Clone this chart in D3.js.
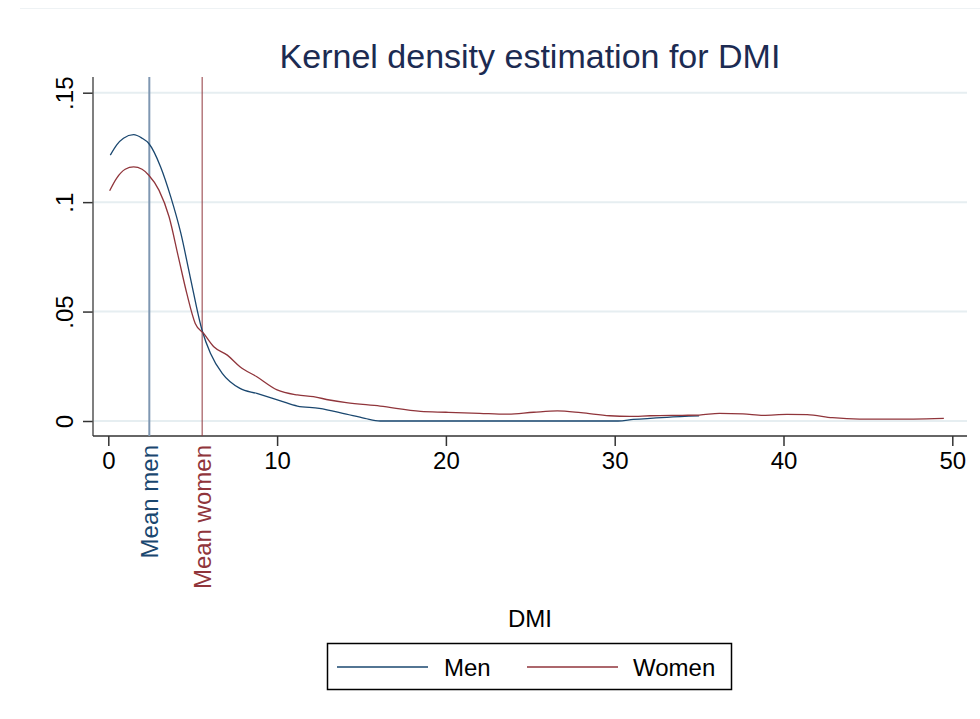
<!DOCTYPE html>
<html lang="en">
    <head>
        <meta charset="utf-8">
        <title>Kernel density estimation for DMI</title>
        <script type="text/javascript" src="https://cdn.jsdelivr.net/npm/d3@7"></script>
        <style>
            body { margin: 0; background: #fff; }
            text { font-family: "Liberation Sans", Arial, sans-serif; }
        </style>
    </head>
    <body>
        <div class="chart"></div>
        <script type="text/javascript">
            // data: [DMI, density]
            var menDensity = [
                [0.12, 0.1215], [0.5, 0.1262], [0.9, 0.1292], [1.5, 0.1308], [2.0, 0.1292],
                [2.4, 0.1268], [3.1, 0.1161], [3.7, 0.1024], [4.3, 0.0857], [4.85, 0.0659],
                [5.55, 0.0416], [6.05, 0.031], [6.75, 0.0218], [7.8, 0.0149], [8.8, 0.0126],
                [10.2, 0.0092], [11.2, 0.0068], [12.5, 0.0058], [14.1, 0.0031], [15.2, 0.0012],
                [16.1, 0.0], [20, 0.0], [25, 0.0], [30.2, 0.0], [31.1, 0.0007],
                [33.1, 0.0017], [35.0, 0.0023]
            ];
            var womenDensity = [
                [0.08, 0.1052], [0.5, 0.111], [1.0, 0.115], [1.5, 0.1161], [2.0, 0.115],
                [2.4, 0.1123], [3.0, 0.1055], [3.6, 0.0933], [4.15, 0.075], [4.65, 0.0583],
                [5.15, 0.0446], [5.65, 0.04], [6.25, 0.0339], [7.05, 0.0301], [7.8, 0.0248],
                [8.8, 0.0202], [10.0, 0.0142], [11.2, 0.0119], [12.15, 0.0111], [13.1, 0.0096],
                [14.1, 0.0084], [16.1, 0.0068], [18.5, 0.0044], [20.0, 0.004], [22.0, 0.0035],
                [23.6, 0.0031], [25.2, 0.004], [26.6, 0.0046], [28.0, 0.0038], [29.7, 0.0024],
                [30.9, 0.0021], [32.1, 0.0024], [34.0, 0.0026], [35.0, 0.0027], [36.2, 0.0035],
                [37.6, 0.0033], [38.8, 0.0026], [40.2, 0.003], [41.4, 0.0029], [42.9, 0.0015],
                [44.5, 0.0009], [47.7, 0.0009], [49.5, 0.0012]
            ];
            var meanMen = 2.43;
            var meanWomen = 5.56;
            var xTicks = [0, 10, 20, 30, 40, 50];
            var yTicks = [0, 0.05, 0.1, 0.15];
            var yTickLabels = ["0", ".05", ".1", ".15"];
            var seriesNames = ["Men", "Women"];

            var navy = "#1a476f";
            var maroon = "#90353b";

            var w = 980;
            var h = 719;
            var svg = d3.select("body div.chart")
                        .append("svg")
                        .attr("width", w)
                        .attr("height", h);

            // faint outer border line at the top
            svg.append("line")
               .attr("x1", 20).attr("x2", 980)
               .attr("y1", 8.5).attr("y2", 8.5)
               .attr("stroke", "#eef2f4")
               .attr("stroke-width", 1);

            var xScale = d3.scaleLinear().domain([0, 50]).range([108.3, 952.3]);
            var yScale = d3.scaleLinear().domain([0, 0.15]).range([421, 92.7]);

            var plotLeft = 93, plotRight = 967, plotTop = 77, plotBottom = 436;

            // gridlines
            svg.selectAll("line.grid")
               .data(yTicks)
               .enter()
               .append("line")
               .attr("class", "grid")
               .attr("x1", plotLeft + 1).attr("x2", plotRight)
               .attr("y1", function(d){return yScale(d);})
               .attr("y2", function(d){return yScale(d);})
               .attr("stroke", "#e6eef1")
               .attr("stroke-width", 2);

            // y axis
            var yAxis = d3.axisLeft(yScale)
                          .tickValues(yTicks)
                          .tickSize(10)
                          .tickPadding(0)
                          .tickFormat(function(d, i){return yTickLabels[i];});
            var gy = svg.append("g")
                        .attr("transform", "translate(" + plotLeft + ",0)")
                        .call(yAxis);
            gy.select(".domain").remove();
            gy.selectAll(".tick line").attr("stroke", "#333").attr("stroke-width", 1.5);
            gy.selectAll(".tick text")
              .attr("x", null).attr("dy", null)
              .attr("transform", "translate(-20,0) rotate(-90)")
              .attr("text-anchor", "middle")
              .attr("font-size", 24)
              .attr("font-family", "Liberation Sans, Arial, sans-serif")
              .attr("fill", "#000");

            // x axis
            var xAxis = d3.axisBottom(xScale)
                          .tickValues(xTicks)
                          .tickSize(10)
                          .tickPadding(6)
                          .tickFormat(d3.format("d"));
            var gx = svg.append("g")
                        .attr("transform", "translate(0," + plotBottom + ")")
                        .call(xAxis);
            gx.select(".domain").remove();
            gx.selectAll(".tick line").attr("stroke", "#333").attr("stroke-width", 1.5);
            gx.selectAll(".tick text")
              .attr("font-size", 24)
              .attr("font-family", "Liberation Sans, Arial, sans-serif")
              .attr("fill", "#000");

            // axis lines
            svg.append("line")
               .attr("x1", plotLeft).attr("x2", plotLeft)
               .attr("y1", plotTop).attr("y2", plotBottom)
               .attr("stroke", "#555").attr("stroke-width", 1.5);
            svg.append("line")
               .attr("x1", plotLeft).attr("x2", plotRight)
               .attr("y1", plotBottom).attr("y2", plotBottom)
               .attr("stroke", "#333").attr("stroke-width", 1.5);

            // mean lines
            var means = [
                {name: "Mean men", value: meanMen, color: navy, line: "#7f97b2", width: 2},
                {name: "Mean women", value: meanWomen, color: maroon, line: maroon, width: 1}
            ];
            svg.selectAll("line.mean")
               .data(means)
               .enter()
               .append("line")
               .attr("class", "mean")
               .attr("x1", function(d){return xScale(d.value);})
               .attr("x2", function(d){return xScale(d.value);})
               .attr("y1", plotTop)
               .attr("y2", plotBottom)
               .attr("stroke", function(d){return d.line;})
               .attr("stroke-width", function(d){return d.width;});
            svg.selectAll("text.mean")
               .data(means)
               .enter()
               .append("text")
               .attr("class", "mean")
               .attr("transform", function(d){return "translate(" + (xScale(d.value) + 8.5) + ",445) rotate(-90)";})
               .attr("text-anchor", "end")
               .attr("font-size", 24)
               .attr("fill", function(d){return d.color;})
               .text(function(d){return d.name;});

            // density curves
            var line = d3.line()
                         .x(function(d){return xScale(d[0]);})
                         .y(function(d){return yScale(d[1]);})
                         .curve(d3.curveMonotoneX);
            var series = [
                {name: seriesNames[0], values: menDensity, color: navy},
                {name: seriesNames[1], values: womenDensity, color: maroon}
            ];
            svg.selectAll("path.density")
               .data(series)
               .enter()
               .append("path")
               .attr("class", "density")
               .attr("d", function(d){return line(d.values);})
               .attr("fill", "none")
               .attr("stroke", function(d){return d.color;})
               .attr("stroke-width", 1.3);

            // title
            svg.append("text")
               .attr("x", (plotLeft + plotRight) / 2)
               .attr("y", 68)
               .attr("text-anchor", "middle")
               .attr("font-size", 34)
               .attr("fill", "#1c2b52")
               .text("Kernel density estimation for DMI");

            // x axis title
            svg.append("text")
               .attr("x", (plotLeft + plotRight) / 2)
               .attr("y", 627)
               .attr("text-anchor", "middle")
               .attr("font-size", 24)
               .attr("fill", "#000")
               .text("DMI");

            // legend
            var legend = svg.append("g");
            legend.append("rect")
                  .attr("x", 327.5).attr("y", 643.5)
                  .attr("width", 404).attr("height", 46)
                  .attr("fill", "#fff")
                  .attr("stroke", "#000")
                  .attr("stroke-width", 1.5);
            var items = legend.selectAll("g.item")
                              .data(series)
                              .enter()
                              .append("g")
                              .attr("class", "item")
                              .attr("transform", function(d, i){return "translate(" + (337 + i * 190) + ",0)";});
            items.append("line")
                 .attr("x1", 0).attr("x2", 91)
                 .attr("y1", 667).attr("y2", 667)
                 .attr("stroke", function(d){return d.color;})
                 .attr("stroke-width", 1.3);
            items.append("text")
                 .attr("x", function(d, i){return i === 0 ? 107 : 106;})
                 .attr("y", 675.5)
                 .attr("font-size", 24)
                 .attr("fill", "#000")
                 .text(function(d){return d.name;});
        </script>
    </body>
</html>
